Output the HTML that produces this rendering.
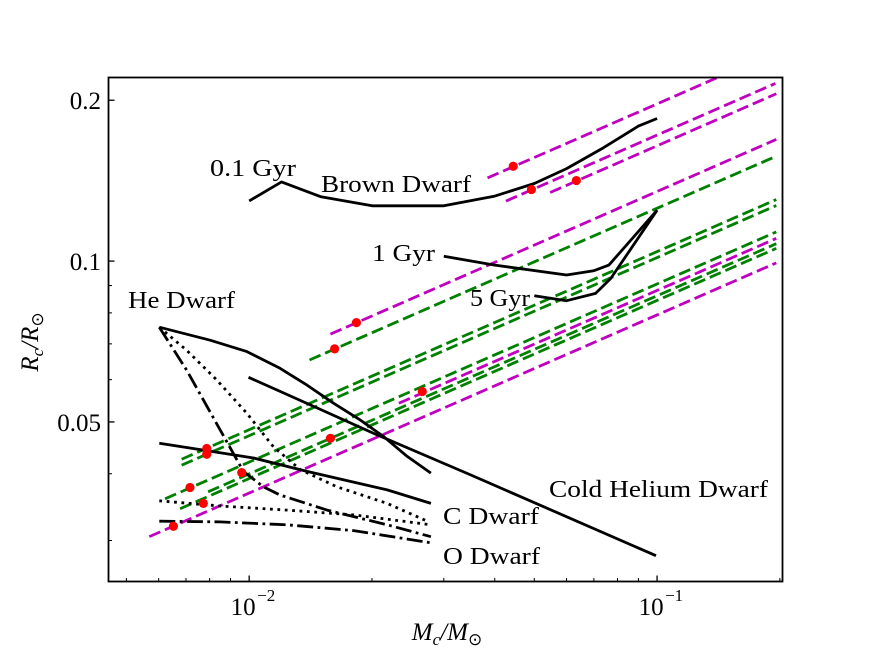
<!DOCTYPE html>
<html><head><meta charset="utf-8"><style>
html,body{margin:0;padding:0;background:#fff;}
svg{display:block;font-family:"Liberation Serif",serif;}
</style></head><body>
<svg id="chart" width="871" height="654" viewBox="0 0 871 654" xmlns="http://www.w3.org/2000/svg">
<defs><clipPath id="plotclip"><rect x="108.5" y="77.5" width="674" height="504"/></clipPath></defs>
<rect width="871" height="654" fill="#fff"/>
<g id="series" clip-path="url(#plotclip)"></g>
<g id="labels"></g>
<g id="axes"></g>
</svg>
<script>
// ---- data ----
const xMin = 0.00452, xMax = 0.203;
const yMin = 0.02514, yMax = 0.2206;
const yTickValues = [0.2, 0.1, 0.05];
const yTickLabels = ["0.2", "0.1", "0.05"];
const yMinorTicks = [0.03, 0.04, 0.06, 0.07, 0.08, 0.09];
const xTickValues = [0.01, 0.1];
const xTickExps = ["−2", "−1"];
const xMinorTicks = [0.005,0.006,0.007,0.008,0.009,0.02,0.03,0.04,0.05,0.06,0.07,0.08,0.09,0.2];

// scaling lines R ∝ M^(1/3)
const lineMassStart = [0.0384,0.0426,0.0547,0.01582,0.01406,0.00683,0.00683,0.00622,0.00677,0.00569,0.00793,0.02328];
const lineRadiusStart = [0.1431,0.1295,0.1344,0.0730,0.0653,0.04258,0.0415,0.0359,0.0344,0.0305,0.0370,0.0542];
const lineMassEnd = [0.14,0.195,0.196,0.196,0.196,0.196,0.196,0.196,0.196,0.196,0.196,0.196];
const lineColors = ["m","m","m","m","g","g","g","g","g","m","g","m"];

// red points
const dotMass = [0.0444,0.0492,0.0634,0.01832,0.0162,0.00787,0.00787,0.00716,0.00772,0.00652,0.00959,0.01582,0.02657];
const dotRadius = [0.1505,0.1361,0.1415,0.0767,0.0685,0.0446,0.0435,0.0377,0.0352,0.0319,0.0402,0.0466,0.0570];

// black curves
const gyr01Mass = [0.01,0.012,0.015,0.02,0.03,0.04,0.05,0.06,0.074,0.09,0.1];
const gyr01Radius = [0.1296,0.1407,0.1319,0.1269,0.1269,0.1323,0.1397,0.149,0.1631,0.1789,0.1849];
const gyr1Mass = [0.03,0.04,0.06,0.0699,0.0762,0.1];
const gyr1Radius = [0.1021,0.0983,0.0942,0.0959,0.0983,0.1245];
const gyr5Mass = [0.05,0.06,0.0707,0.077,0.1];
const gyr5Radius = [0.0861,0.0843,0.087,0.0928,0.1245];
const heMass = [0.00602,0.00802,0.00987,0.0119,0.01386,0.0161,0.01874,0.0214,0.0244,0.0279];
const heRadius = [0.0752,0.0711,0.0677,0.063,0.0586,0.0542,0.0504,0.0469,0.0431,0.0401];
const coldHeMass = [0.00996,0.01412,0.0202,0.0349,0.0994];
const coldHeRadius = [0.0606,0.0538,0.0476,0.0398,0.0281];
const cSolidMass = [0.00602,0.00787,0.01025,0.01386,0.0218,0.0279];
const cSolidRadius = [0.0456,0.0442,0.0428,0.0404,0.0373,0.0352];
const cDotUpMass = [0.00602,0.00703,0.00833,0.00987,0.01147,0.01335,0.01643,0.0218,0.02733];
const cDotUpRadius = [0.0752,0.0681,0.0599,0.0519,0.0449,0.0407,0.0378,0.0352,0.0326];
const cDotLowMass = [0.00602,0.00849,0.01238,0.01804,0.0279];
const cDotLowRadius = [0.0356,0.0348,0.0342,0.0335,0.0321];
const oUpMass = [0.00602,0.00703,0.00849,0.00968,0.01084,0.0119,0.01552,0.0218,0.0279];
const oUpRadius = [0.0752,0.0625,0.0483,0.0404,0.0378,0.0365,0.0342,0.0321,0.0305];
const oLowMass = [0.00602,0.00849,0.01238,0.01804,0.0279];
const oLowRadius = [0.0326,0.0325,0.0321,0.0313,0.0297];

// ---- axis functions ----
const L=108.5,R=782.5,T=77.5,B=581.5;
function X(m){return L+(Math.log10(m)-Math.log10(xMin))/(Math.log10(xMax)-Math.log10(xMin))*(R-L);}
function Y(r){return B-(Math.log10(r)-Math.log10(yMin))/(Math.log10(yMax)-Math.log10(yMin))*(B-T);}
const NS="http://www.w3.org/2000/svg";
function mk(tag,attrs,parent){const e=document.createElementNS(NS,tag);for(const k in attrs)e.setAttribute(k,attrs[k]);parent.appendChild(e);return e;}
const series=document.getElementById('series'),labels=document.getElementById('labels'),axes=document.getElementById('axes');

for(let i=0;i<lineMassStart.length;i++){
  const r1=lineRadiusStart[i]*Math.pow(lineMassEnd[i]/lineMassStart[i],1/3);
  const col=lineColors[i]==="m"?"#bf00bf":"#008000";
  const ln=mk('line',{x1:X(lineMassStart[i]),y1:Y(lineRadiusStart[i]),x2:X(lineMassEnd[i]),y2:Y(r1),stroke:col,'stroke-width':2.8,'stroke-dasharray':'12 5'},series);
  
  
}
function curve(ms,rs,dash,name){
  const d=ms.map((m,i)=>(i?'L':'M')+X(m).toFixed(1)+' '+Y(rs[i]).toFixed(1)).join(' ');
  const p=mk('path',{d:d,fill:'none',stroke:'#000','stroke-width':2.8,'stroke-linejoin':'round'},series);
  if(dash)p.setAttribute('stroke-dasharray',dash);
  
  
}
curve(gyr01Mass,gyr01Radius,null,'brown-dwarf-0.1gyr-curve');
curve(gyr1Mass,gyr1Radius,null,'brown-dwarf-1gyr-curve');
curve(gyr5Mass,gyr5Radius,null,'brown-dwarf-5gyr-curve');
curve(heMass,heRadius,null,'he-dwarf-curve');
curve(coldHeMass,coldHeRadius,null,'cold-helium-dwarf-curve');
curve(cSolidMass,cSolidRadius,null,'c-dwarf-solid-curve');
curve(cDotUpMass,cDotUpRadius,'2.8 4.6','c-dwarf-dotted-upper-curve');
curve(cDotLowMass,cDotLowRadius,'2.8 4.6','c-dwarf-dotted-lower-curve');
curve(oUpMass,oUpRadius,'16 4.4 2.8 4.4','o-dwarf-dashdot-upper-curve');
curve(oLowMass,oLowRadius,'16 4.4 2.8 4.4','o-dwarf-dashdot-lower-curve');

for(let i=0;i<dotMass.length;i++){
  const c=mk('circle',{cx:X(dotMass[i]),cy:Y(dotRadius[i]),r:4.6,fill:'#ff0000'},series);
  
  
}

const fr=mk('rect',{x:L,y:T,width:R-L,height:B-T,fill:'none',stroke:'#000','stroke-width':1.8},axes);


yTickValues.forEach((v,i)=>{
  const y=Y(v);
  mk('line',{x1:L,y1:y,x2:L+6,y2:y,stroke:'#000','stroke-width':1.3},axes);
  const t=mk('text',{x:101,y:y+9,'text-anchor':'end','font-size':25,fill:'#000'},axes);
  t.textContent=yTickLabels[i];
  
  
});
yMinorTicks.forEach(v=>{const y=Y(v);mk('line',{x1:L,y1:y,x2:L+3.5,y2:y,stroke:'#000','stroke-width':1},axes);});
xTickValues.forEach((v,i)=>{
  const x=X(v);
  mk('line',{x1:x,y1:B,x2:x,y2:B-6,stroke:'#000','stroke-width':1.3},axes);
  const t=mk('text',{x:x-6,y:615,'text-anchor':'middle','font-size':25,fill:'#000'},axes);
  t.textContent='10';
  
  
  const s=mk('text',{x:x+8,y:601,'text-anchor':'start','font-size':17,fill:'#000'},axes);
  s.textContent=xTickExps[i];
});
xMinorTicks.forEach(v=>{const x=X(v);mk('line',{x1:x,y1:B,x2:x,y2:B-3.5,stroke:'#000','stroke-width':1},axes);});
</script>
<script>
const lab=document.getElementById('labels');
const labelTexts=[["0.1 Gyr",210,176,86],["Brown Dwarf",321,192,150],["1 Gyr",372,261,63],["5 Gyr",470,306,60],["He Dwarf",128,308,107],["Cold Helium Dwarf",549,497,219],["C Dwarf",443,524,96],["O Dwarf",443,564,97]];
labelTexts.forEach(a=>{
  const t=document.createElementNS("http://www.w3.org/2000/svg",'text');
  t.setAttribute('x',a[1]);t.setAttribute('y',a[2]);t.setAttribute('font-size',24);
  t.setAttribute('textLength',a[3]);t.setAttribute('lengthAdjust','spacingAndGlyphs');
  t.textContent=a[0];
  
  
  lab.appendChild(t);
});
</script>
<svg style="position:absolute;left:0;top:0" width="871" height="654">
<text x="447" y="640" text-anchor="middle" font-family="Liberation Serif, serif" font-size="25" font-style="italic">M<tspan font-size="17" dy="5">c</tspan><tspan dy="-5">/M</tspan><tspan font-size="17" dy="5" font-style="normal">⊙</tspan></text>
<text transform="translate(38,342) rotate(-90)" text-anchor="middle" font-family="Liberation Serif, serif" font-size="25" font-style="italic">R<tspan font-size="17" dy="5">c</tspan><tspan dy="-5">/R</tspan><tspan font-size="17" dy="5" font-style="normal">⊙</tspan></text>
</svg>
</body></html>
